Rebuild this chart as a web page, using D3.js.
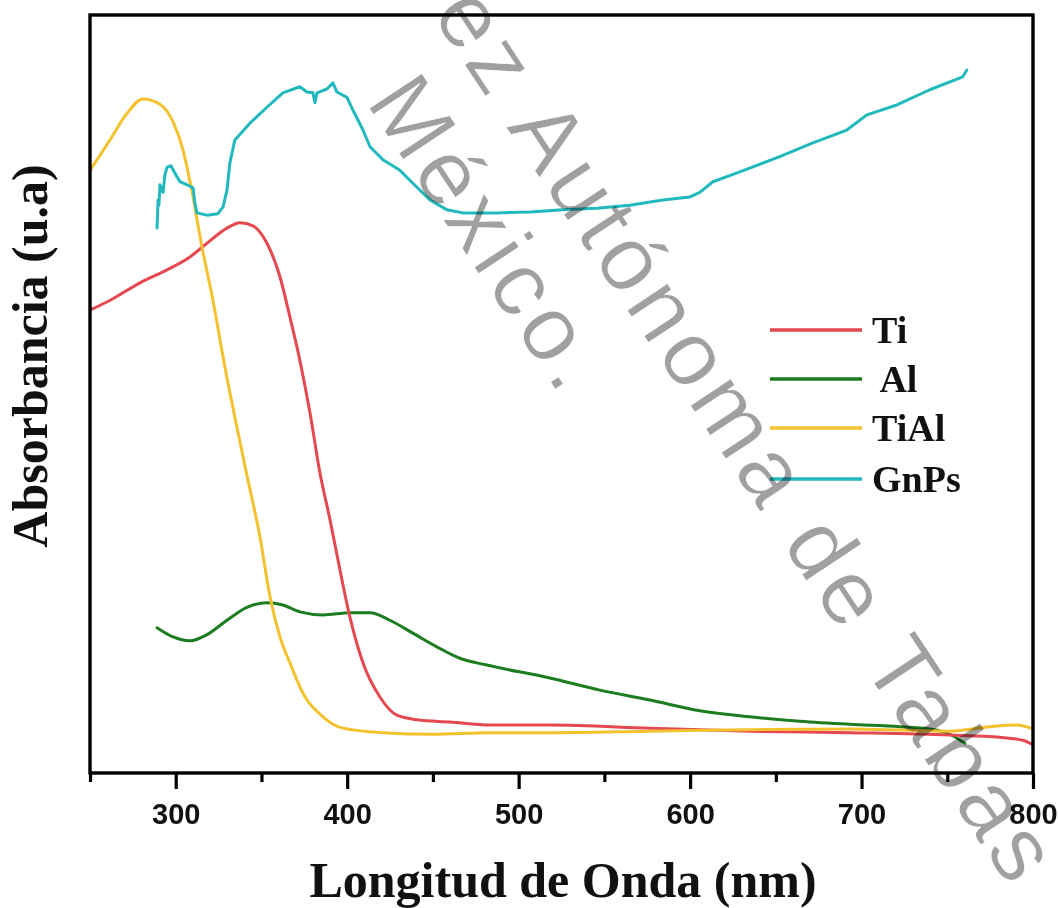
<!DOCTYPE html>
<html><head><meta charset="utf-8">
<script src="https://cdn.jsdelivr.net/npm/d3@7"></script>
<style>body{margin:0;background:#fff} svg{display:block}</style>
</head><body>
<svg id="chart" width="1058" height="908"></svg>
<script>
// ---- data (wavelength in nm, absorbance in arbitrary units 0-100) ----
const tiWl  = [250, 261.7, 279.2, 294.9, 308.3, 318.2, 329.9, 337.5, 345.0, 353.2, 360.8, 366.6, 372.4, 378.3, 384.1, 390.0, 395.8, 401.6, 409.2, 419.1, 429.0, 440.7, 459.9, 483.2, 518.2, 576.5, 634.8, 693.1, 751.5, 780.6, 794.0, 800];
const tiAbs = [60.9, 62.2, 64.5, 66.2, 67.9, 69.7, 71.7, 72.4, 72.0, 69.7, 65.3, 60.0, 54.3, 47.4, 39.5, 33.3, 26.7, 20.5, 14.5, 10.0, 7.6, 7.0, 6.7, 6.3, 6.3, 5.9, 5.5, 5.3, 5.0, 4.7, 4.3, 3.7];

const alWl  = [289.1, 298.4, 308.3, 318.2, 329.9, 341.5, 353.2, 362.5, 372.4, 385.9, 401.6, 413.3, 424.9, 438.3, 452.3, 465.7, 481.5, 518.2, 547.4, 576.5, 605.7, 634.8, 664.0, 693.1, 722.3, 742.7, 751.5, 760.2];
const alAbs = [19.1, 17.9, 17.4, 18.2, 20.1, 21.8, 22.4, 22.1, 21.2, 20.8, 21.1, 21.1, 20.1, 18.4, 16.6, 15.1, 14.2, 12.5, 10.9, 9.6, 8.2, 7.4, 6.8, 6.4, 6.1, 5.7, 5.1, 3.9];

const tialWl  = [250, 261.7, 271.6, 280.9, 290.8, 298.4, 304.2, 308.9, 315.3, 321.7, 328.7, 335.7, 341.5, 349.1, 355.0, 360.8, 366.6, 374.2, 385.9, 397.5, 420.8, 450.0, 483.2, 518.2, 576.5, 634.8, 693.1, 751.5, 774.8, 790.5, 799.9];
const tialAbs = [79.3, 83.3, 86.8, 88.7, 88.0, 85.7, 82.0, 77.2, 69.2, 62.2, 53.4, 45.5, 39.2, 31.1, 23.2, 17.9, 14.5, 10.5, 7.4, 5.9, 5.3, 5.1, 5.3, 5.3, 5.5, 5.7, 5.8, 5.5, 6.1, 6.3, 5.8];

const gnpWl  = [289.1, 289.7, 290.2, 290.8, 292.6, 293.7, 294.9, 297.2, 299.6, 302.5, 306.6, 310.1, 311.2, 312.4, 318.2, 324.6, 327.6, 329.9, 331.6, 334.5, 343.3, 353.2, 362.5, 372.4, 376.5, 380.0, 381.2, 382.4, 388.2, 391.7, 394.0, 399.9, 403.4, 409.2, 413.3, 420.8, 430.8, 438.3, 448.3, 458.2, 467.5, 487.3, 506.6, 525.8, 545.6, 564.9, 584.1, 599.9, 605.7, 613.3, 629.0, 652.3, 671.6, 691.4, 703.1, 720.6, 739.8, 759.0, 761.4];
const gnpAbs = [71.7, 75.4, 74.7, 77.4, 76.4, 78.7, 79.7, 79.9, 78.9, 77.8, 77.4, 77.0, 75.0, 73.7, 73.4, 73.6, 74.5, 76.7, 80.3, 83.3, 85.5, 87.6, 89.5, 90.3, 89.6, 89.5, 88.2, 89.5, 90.0, 90.8, 89.6, 88.9, 87.2, 84.6, 82.4, 80.7, 79.3, 77.6, 75.4, 74.1, 73.7, 73.7, 73.8, 74.1, 74.3, 74.7, 75.4, 75.8, 76.4, 77.8, 79.1, 81.1, 82.9, 84.6, 86.6, 87.9, 89.9, 91.6, 92.5];

const seriesNames  = ["Ti", " Al", "TiAl", "GnPs"];
const seriesColors = ["#e5484f", "#1b7d1f", "#f4c12f", "#21b9bd"];
const majorTicks = [300, 400, 500, 600, 700, 800];
const minorTicks = [250, 350, 450, 550, 650, 750];
const xTitle = "Longitud de Onda (nm)";
const yTitle = "Absorbancia (u.a)";
const watermarkLines = ["ez Autónoma de Tabas", "México."];

// ---- layout ----
const svg = d3.select("#chart");
svg.append("rect").attr("width", 1058).attr("height", 908).attr("fill", "#fff");
const L = 90, R = 1033, T = 15, B = 773;
const x = d3.scaleLinear().domain([250, 800]).range([L, R]);
const y = d3.scaleLinear().domain([0, 100]).range([B, 13]);

const zip = (a, b) => a.map((v, i) => [v, b[i]]);
const series = [
  {name: seriesNames[0], color: seriesColors[0], data: zip(tiWl, tiAbs), curve: d3.curveMonotoneX},
  {name: seriesNames[1], color: seriesColors[1], data: zip(alWl, alAbs), curve: d3.curveMonotoneX},
  {name: seriesNames[2], color: seriesColors[2], data: zip(tialWl, tialAbs), curve: d3.curveMonotoneX},
  {name: seriesNames[3], color: seriesColors[3], data: zip(gnpWl, gnpAbs), curve: d3.curveLinear}
];
const drawOrder = [1, 0, 2, 3];

svg.append("clipPath").attr("id", "clip").append("rect")
  .attr("x", L).attr("y", T).attr("width", R - L).attr("height", B - T);

const plot = svg.append("g").attr("clip-path", "url(#clip)");
drawOrder.forEach(i => {
  const s = series[i];
  plot.append("path")
    .attr("d", d3.line().x(d => x(d[0])).y(d => y(d[1])).curve(s.curve)(s.data))
    .attr("fill", "none").attr("stroke", s.color).attr("stroke-width", 3)
    .attr("stroke-linejoin", "round").attr("stroke-linecap", "round");
});

// axes
const gMinor = svg.append("g").attr("transform", `translate(0,${B})`)
  .call(d3.axisBottom(x).tickValues(minorTicks).tickSize(9).tickFormat(""));
const gMajor = svg.append("g").attr("transform", `translate(0,${B})`)
  .call(d3.axisBottom(x).tickValues(majorTicks).tickSize(16).tickPadding(14).tickFormat(d3.format("d")));
[gMinor, gMajor].forEach(g => {
  g.select(".domain").remove();
  g.selectAll(".tick line").attr("stroke", "#000").attr("stroke-width", 3.2);
});
gMajor.selectAll(".tick text")
  .attr("font-family", "'Liberation Sans', Arial, sans-serif")
  .attr("font-weight", "bold").attr("font-size", 29).attr("fill", "#111");

svg.append("rect").attr("x", L).attr("y", T).attr("width", R - L).attr("height", B - T)
  .attr("fill", "none").attr("stroke", "#000").attr("stroke-width", 3.4);

// titles
svg.append("text").attr("x", 563).attr("y", 897).attr("text-anchor", "middle")
  .attr("font-family", "'Liberation Serif', 'Times New Roman', serif")
  .attr("font-weight", "bold").attr("font-size", 50).attr("fill", "#111").text(xTitle);
svg.append("text").attr("transform", "translate(47,356) rotate(-90)").attr("text-anchor", "middle")
  .attr("font-family", "'Liberation Serif', 'Times New Roman', serif")
  .attr("font-weight", "bold").attr("font-size", 50).attr("fill", "#111").text(yTitle);

// legend
const legY = [330, 379, 428, 479];
const leg = svg.append("g");
series.forEach((s, i) => {
  leg.append("line").attr("x1", 770).attr("x2", 862).attr("y1", legY[i]).attr("y2", legY[i])
    .attr("stroke", s.color).attr("stroke-width", 3.5);
  leg.append("text").attr("x", 872).attr("y", legY[i] + 13)
    .attr("font-family", "'Liberation Serif', 'Times New Roman', serif")
    .attr("font-weight", "bold").attr("font-size", 38).attr("fill", "#111")
    .style("white-space", "pre").text(s.name);
});

// watermark
const wm = svg.append("g").style("mix-blend-mode", "multiply");
const wmFont = 92, wmAngle = 56.5;
[[431, 14], [365, 102]].forEach((p, i) => {
  wm.append("text").attr("transform", `translate(${p[0]},${p[1]}) rotate(${wmAngle})`)
    .attr("font-family", "'Liberation Sans', Arial, sans-serif")
    .attr("font-size", wmFont).attr("letter-spacing", 6)
    .attr("fill", "#a0a0a0").attr("stroke", "#fff").attr("stroke-width", 0.8)
    .text(watermarkLines[i]);
});
</script>
</body></html>
